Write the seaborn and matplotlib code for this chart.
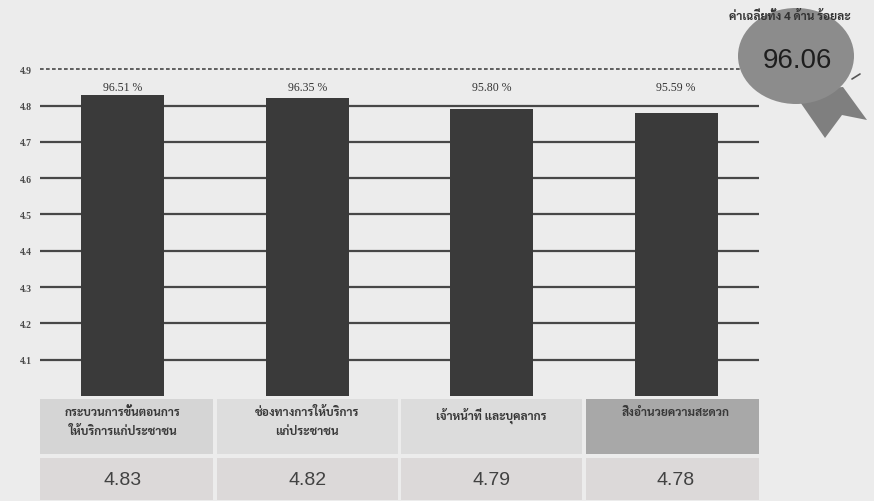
import matplotlib
matplotlib.use("Agg")
import matplotlib.pyplot as plt
from matplotlib.patches import Rectangle, Ellipse, Polygon
import seaborn as sns
import pandas as pd

# ---------------- data ----------------
categories = [
    "กระบวนการขั้นตอนการ\nให้บริการแก่ประชาชน",
    "ช่องทางการให้บริการ\nแก่ประชาชน",
    "เจ้าหน้าที่ และบุคลากร",
    "สิ่งอำนวยความสะดวก",
]
scores = [4.83, 4.82, 4.79, 4.78]
percents = ["96.51 %", "96.35 %", "95.80 %", "95.59 %"]
score_labels = ["4.83", "4.82", "4.79", "4.78"]
y_ticks = [4.1, 4.2, 4.3, 4.4, 4.5, 4.6, 4.7, 4.8, 4.9]
badge_title = "ค่าเฉลี่ยทั้ง 4 ด้าน ร้อยละ"
badge_value = "96.06"

df = pd.DataFrame({"cat": categories, "score": scores})

sns.set_theme(style="white")
THAI = ["Sarabun", "Noto Sans Thai", "DejaVu Sans"]
plt.rcParams["font.family"] = ["Liberation Sans", "DejaVu Sans"]

W, H = 874, 502
fig = plt.figure(figsize=(W / 100, H / 100), dpi=100)
fig.patch.set_facecolor("#ececec")

def fx(px):
    return px / W

def fy(py):
    return 1 - py / H

# ---------------- main bar axes ----------------
ax_l, ax_r = 40, 759
ax_t, ax_b = 63, 397
ax = fig.add_axes([fx(ax_l), fy(ax_b), fx(ax_r - ax_l), (ax_b - ax_t) / H])
ax.set_facecolor("none")

sns.barplot(data=df, x="cat", y="score", color="#3a3a3a", width=0.45,
            saturation=1, ax=ax, zorder=3)
for p in ax.patches:
    p.set_edgecolor("none")

ax.set_ylim(4.0, 4.92)
ax.set_xlim(-0.45, 3.45)
for v in y_ticks[:-1]:
    ax.axhline(v, color="#474747", lw=1.6, zorder=1)
ax.plot([-0.45, 3.38], [4.9, 4.9], color="#474747", lw=1.2,
        ls=(0, (2.2, 1.4)), zorder=1, clip_on=False)

ax.set_yticks(y_ticks)
ax.set_yticklabels([f"{v:.1f}" for v in y_ticks], fontsize=7,
                   color="#4a4a4a", fontweight="bold",
                   family=["Liberation Serif", "DejaVu Serif"])
ax.tick_params(axis="y", length=0, pad=6)
ax.set_xticks([])
ax.set_xlabel("")
ax.set_ylabel("")
for s in ax.spines.values():
    s.set_visible(False)

label_level = max(scores) + 0.004
for i, t in enumerate(percents):
    ax.text(i, label_level, t, ha="center", va="bottom", fontsize=8.5,
            color="#333333", family=["Liberation Serif", "DejaVu Serif"])

# ---------------- table axes (shares x with bars) ----------------
tb_t, tb_b = 398, 502
tax = fig.add_axes([fx(ax_l), fy(tb_b), fx(ax_r - ax_l), (tb_b - tb_t) / H], sharex=ax)
tax.set_facecolor("none")
tax.set_ylim(1, 0)
tax.axis("off")

label_colors = ["#d5d5d5", "#dddddd", "#dcdcdc", "#a8a8a8"]
half = 0.49
for i, (c, s) in enumerate(zip(categories, score_labels)):
    tax.add_patch(Rectangle((i - half, 0.02), 2 * half, 0.53,
                            facecolor=label_colors[i], edgecolor="none"))
    tax.add_patch(Rectangle((i - half, 0.59), 2 * half, 0.40,
                            facecolor="#dcd9d9", edgecolor="none"))
    tax.text(i, 0.09, c, ha="center", va="top", fontsize=8.5,
             fontweight="bold", color="#383838", family=THAI, linespacing=1.75)
    tax.text(i, 0.79, s, ha="center", va="center", fontsize=14,
             color="#424242", family=["Liberation Sans", "DejaVu Sans"])

# ---------------- badge overlay ----------------
ov = fig.add_axes([0, 0, 1, 1])
ov.set_xlim(0, W)
ov.set_ylim(H, 0)
ov.axis("off")
ov.set_facecolor("none")
ribbon = Polygon([(785, 92), (843, 88), (867, 121), (842, 116),
                  (825, 139), (798, 100)], closed=True,
                 facecolor="#7f7f7f", edgecolor="none")
ov.add_patch(ribbon)
ov.add_patch(Ellipse((796, 57), 116, 96, facecolor="#8c8c8c", edgecolor="none"))
ov.text(797, 61, badge_value, ha="center", va="center", fontsize=20,
        color="#1e1e1e", family=["Liberation Sans", "DejaVu Sans"])
ov.text(790, 17, badge_title, ha="center", va="center", fontsize=8.5,
        fontweight="bold", color="#333333", family=THAI)
ov.plot([852, 860], [80, 75], color="#555555", lw=1.2)

fig.savefig("out.png", dpi=100, facecolor=fig.get_facecolor())
